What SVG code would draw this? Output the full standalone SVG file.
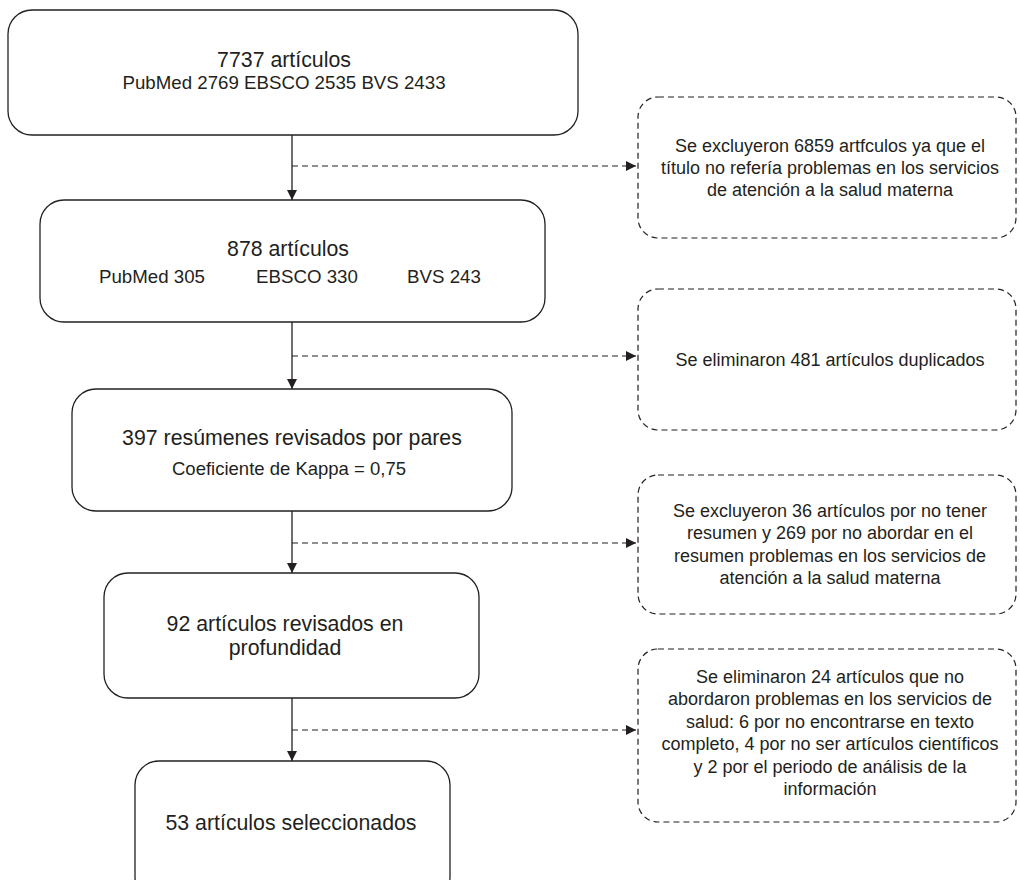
<svg xmlns="http://www.w3.org/2000/svg" width="1020" height="880" viewBox="0 0 1020 880">
<defs>
<style>
.box{fill:#fff;stroke:#231f20;stroke-width:1.3}
.dbox{fill:#fff;stroke:#231f20;stroke-width:1.2;stroke-dasharray:6 4}
.t{font-family:"Liberation Sans",Arial,sans-serif;fill:#231f20;text-anchor:middle}
.t1{font-size:21.3px}
.t2{font-size:18.7px}
.t3{font-size:18.5px}
.td{font-size:18px}
.ln{stroke:#231f20;stroke-width:1.3;fill:none}
.dl{stroke:#231f20;stroke-width:1.2;fill:none;stroke-dasharray:6 4}
</style>
<marker id="ah" viewBox="0 0 10 10" refX="10" refY="5" markerWidth="10" markerHeight="10" markerUnits="userSpaceOnUse" orient="auto">
<path d="M0,0 L10,5 L0,10 Z" fill="#231f20"/>
</marker>
</defs>
<rect width="1020" height="880" fill="#fff"/>
<g id="connectors">
<line class="ln" x1="292" y1="135" x2="292" y2="200" marker-end="url(#ah)"/>
<line class="ln" x1="292" y1="322" x2="292" y2="389" marker-end="url(#ah)"/>
<line class="ln" x1="292" y1="511" x2="292" y2="573" marker-end="url(#ah)"/>
<line class="ln" x1="292" y1="698" x2="292" y2="761" marker-end="url(#ah)"/>
<line class="dl" x1="292" y1="166" x2="636" y2="166" marker-end="url(#ah)"/>
<line class="dl" x1="292" y1="356" x2="636" y2="356" marker-end="url(#ah)"/>
<line class="dl" x1="292" y1="543" x2="636" y2="543" marker-end="url(#ah)"/>
<line class="dl" x1="292" y1="730" x2="636" y2="730" marker-end="url(#ah)"/>
</g>
<g id="n1">
<rect class="box" x="8" y="10" width="570" height="125" rx="24"/>
<text class="t t1" x="284" y="67">7737 artículos</text>
<text class="t t2" x="284" y="89">PubMed 2769 EBSCO 2535 BVS 2433</text>
</g>
<g id="n2">
<rect class="box" x="40" y="200" width="505" height="122" rx="24"/>
<text class="t t1" x="288" y="256">878 artículos</text>
<text class="t t2" x="152" y="283">PubMed 305</text>
<text class="t t2" x="307" y="283">EBSCO 330</text>
<text class="t t2" x="444" y="283">BVS 243</text>
</g>
<g id="n3">
<rect class="box" x="72" y="389" width="440" height="122" rx="24"/>
<text class="t t1" x="292" y="445">397 resúmenes revisados por pares</text>
<text class="t t3" x="289" y="475">Coeficiente de Kappa = 0,75</text>
</g>
<g id="n4">
<rect class="box" x="104" y="573" width="375" height="125" rx="24"/>
<text class="t t1" x="285" y="631">92 artículos revisados en</text>
<text class="t t1" x="285" y="655">profundidad</text>
</g>
<g id="n5">
<rect class="box" x="135" y="761" width="315" height="140" rx="24"/>
<text class="t t1" x="291" y="830">53 artículos seleccionados</text>
</g>
<g id="e1">
<rect class="dbox" x="638" y="97" width="378" height="141" rx="20"/>
<text class="t td" x="830" y="152">Se excluyeron 6859 artfculos ya que el</text>
<text class="t td" x="830" y="174">título no refería problemas en los servicios</text>
<text class="t td" x="830" y="196">de atención a la salud materna</text>
</g>
<g id="e2">
<rect class="dbox" x="638" y="289" width="378" height="141" rx="20"/>
<text class="t td" x="830" y="366">Se eliminaron 481 artículos duplicados</text>
</g>
<g id="e3">
<rect class="dbox" x="638" y="475" width="378" height="139" rx="20"/>
<text class="t td" x="830" y="517">Se excluyeron 36 artículos por no tener</text>
<text class="t td" x="830" y="539">resumen y 269 por no abordar en el</text>
<text class="t td" x="830" y="562">resumen problemas en los servicios de</text>
<text class="t td" x="830" y="584">atención a la salud materna</text>
</g>
<g id="e4">
<rect class="dbox" x="638" y="649" width="378" height="173" rx="20"/>
<text class="t td" x="830" y="683">Se eliminaron 24 artículos que no</text>
<text class="t td" x="830" y="705">abordaron problemas en los servicios de</text>
<text class="t td" x="830" y="728">salud: 6 por no encontrarse en texto</text>
<text class="t td" x="830" y="750">completo, 4 por no ser artículos científicos</text>
<text class="t td" x="830" y="773">y 2 por el periodo de análisis de la</text>
<text class="t td" x="830" y="795">información</text>
</g>
</svg>
